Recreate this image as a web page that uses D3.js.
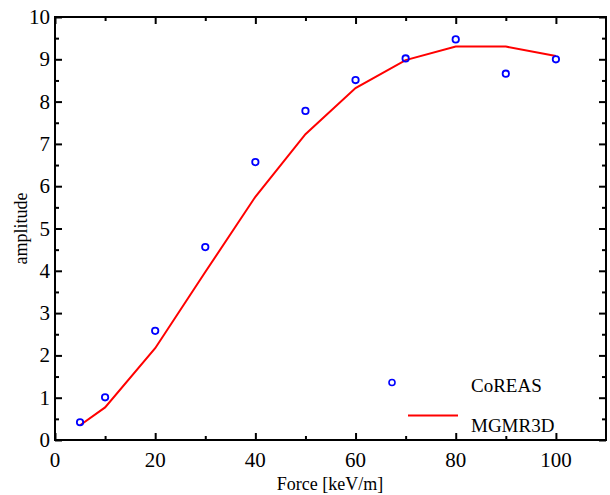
<!DOCTYPE html>
<html>
<head>
<meta charset="utf-8">
<script src="https://cdn.jsdelivr.net/npm/d3@7"></script>
<style>
  body { margin: 0; background: #fff; }
  svg text { font-family: "Liberation Serif", "DejaVu Serif", serif; }
</style>
</head>
<body>
<svg id="chart" width="610" height="495"></svg>
<script>
const forceValues = [5, 10, 20, 30, 40, 50, 60, 70, 80, 90, 100];
const coreasAmp = [0.42, 1.01, 2.58, 4.56, 6.57, 7.78, 8.51, 9.02, 9.47, 8.66, 9.0];
const mgmrAmp = [0.35, 0.77, 2.17, 3.97, 5.75, 7.23, 8.32, 8.98, 9.3, 9.3, 9.08];
const xTicks = [0, 20, 40, 60, 80, 100];
const yTicks = [0, 1, 2, 3, 4, 5, 6, 7, 8, 9, 10];

const svg = d3.select("#chart");
const FONT = "Liberation Serif";
const width = 610, height = 495;

const x = d3.scaleLinear().domain([0, 110]).range([55, 606]);
const y = d3.scaleLinear().domain([0, 10]).range([440, 17]);

const MAJOR = 7, MINOR = 4;
const xMinor = d3.range(10, 110, 20);
const yMinor = d3.range(0.5, 10, 1);

// frame
svg.append("rect")
  .attr("x", x(0)).attr("y", y(10))
  .attr("width", x(110) - x(0)).attr("height", y(0) - y(10))
  .attr("fill", "none").attr("stroke", "#000").attr("stroke-width", 2);

// inward ticks on all four sides
function tickAxis(axisFn, scale, transform, vals, size) {
  svg.append("g")
    .attr("transform", transform)
    .call(axisFn(scale).tickValues(vals).tickSize(size).tickFormat(""))
    .call(g => g.select(".domain").remove())
    .call(g => g.selectAll("line").attr("stroke-width", 2));
}
tickAxis(d3.axisTop, x, `translate(0,${y(0)})`, xTicks, MAJOR);
tickAxis(d3.axisTop, x, `translate(0,${y(0)})`, xMinor, MINOR);
tickAxis(d3.axisBottom, x, `translate(0,${y(10)})`, xTicks, MAJOR);
tickAxis(d3.axisBottom, x, `translate(0,${y(10)})`, xMinor, MINOR);
tickAxis(d3.axisRight, y, `translate(${x(0)},0)`, yTicks, MAJOR);
tickAxis(d3.axisRight, y, `translate(${x(0)},0)`, yMinor, MINOR);
tickAxis(d3.axisLeft, y, `translate(${x(110)},0)`, yTicks, MAJOR);
tickAxis(d3.axisLeft, y, `translate(${x(110)},0)`, yMinor, MINOR);

// tick labels
svg.append("g").selectAll("text")
  .data(xTicks).join("text")
  .attr("x", d => x(d)).attr("y", y(0) + 27)
  .attr("text-anchor", "middle").attr("font-size", 21)
  .attr("font-family", FONT)
  .text(d => d);

svg.append("g").selectAll("text")
  .data(yTicks).join("text")
  .attr("x", x(0) - 5).attr("y", d => y(d) + 7)
  .attr("text-anchor", "end").attr("font-size", 21)
  .attr("font-family", FONT)
  .text(d => d);

// axis titles
svg.append("text")
  .attr("x", 330).attr("y", 490)
  .attr("text-anchor", "middle").attr("font-size", 18)
  .attr("font-family", FONT)
  .text("Force [keV/m]");

svg.append("text")
  .attr("transform", `translate(27,${(y(0) + y(10)) / 2}) rotate(-90)`)
  .attr("text-anchor", "middle").attr("font-size", 18)
  .attr("font-family", FONT)
  .text("amplitude");

// MGMR3D line
const line = d3.line().x((d, i) => x(forceValues[i])).y(d => y(d));
svg.append("path")
  .datum(mgmrAmp)
  .attr("d", line)
  .attr("fill", "none").attr("stroke", "#ff0000").attr("stroke-width", 2);

// CoREAS points
svg.append("g").selectAll("circle")
  .data(coreasAmp).join("circle")
  .attr("cx", (d, i) => x(forceValues[i])).attr("cy", d => y(d))
  .attr("r", 3.2)
  .attr("fill", "none").attr("stroke", "#0000ff").attr("stroke-width", 1.8);

// legend
const legend = svg.append("g");
legend.append("circle")
  .attr("cx", 392).attr("cy", 382.5).attr("r", 3)
  .attr("fill", "none").attr("stroke", "#0000ff").attr("stroke-width", 1.6);
legend.append("text")
  .attr("x", 471).attr("y", 392).attr("font-size", 19)
  .attr("font-family", FONT).text("CoREAS");
legend.append("line")
  .attr("x1", 408).attr("x2", 458).attr("y1", 415.5).attr("y2", 415.5)
  .attr("stroke", "#ff0000").attr("stroke-width", 2);
legend.append("text")
  .attr("x", 471).attr("y", 432).attr("font-size", 19)
  .attr("font-family", FONT).text("MGMR3D");
</script>
</body>
</html>
